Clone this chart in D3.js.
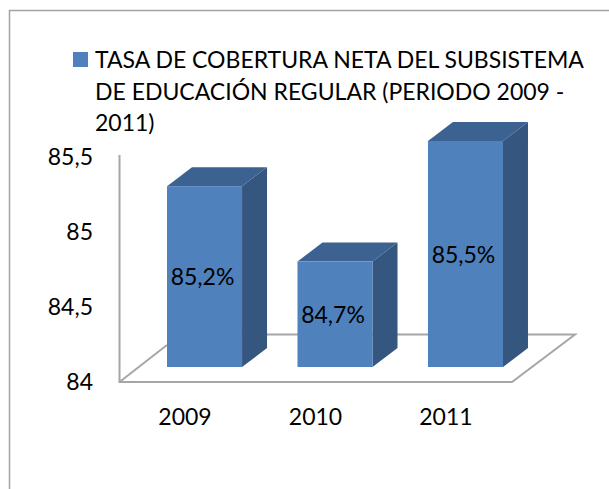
<!DOCTYPE html>
<html><head><meta charset="utf-8">
<style>html,body{margin:0;padding:0;background:#fff}svg{display:block}text{font-family:Lato,"Open Sans",sans-serif;fill:#000}</style>
<script src="https://cdn.jsdelivr.net/npm/d3@7"></script></head>
<body><svg id="c" width="609" height="489"></svg>
<script>
const categories=["2009","2010","2011"];
const values=[85.2,84.7,85.5];
const valueLabels=["85,2%","84,7%","85,5%"];
const tickValues=[84,84.5,85,85.5];
const tickLabels=["84","84,5","85","85,5"];
const legendLines=["TASA DE COBERTURA NETA DEL SUBSISTEMA","DE EDUCACIÓN REGULAR (PERIODO 2009 -","2011)"];

const svg=d3.select("#c");
const fs=23;
const sdx=25,sdy=-19;
const yFront=d3.scaleLinear().domain([84,85.5]).range([382,157]);
const yBar=d3.scaleLinear().domain([84,85.5]).range([367,141]);
const x=d3.scaleBand().domain(categories).range([119,551]).paddingInner(0.425).paddingOuter(0.368);

svg.append("path").attr("d","M9.5,489V10.5H609").attr("fill","none").attr("stroke","#a3a3a3").attr("stroke-width",1.5);

// wall and floor
const g="#a6a6a6";
svg.append("path").attr("d",`M119.5,155V382H512L575,334.5H167M119.5,382L167,345`).attr("fill","none").attr("stroke",g).attr("stroke-width",2);

// axis labels
const axis=d3.axisLeft(yFront).tickValues(tickValues).tickFormat((d,i)=>tickLabels[i]).tickSize(0).tickPadding(0);
const ag=svg.append("g").attr("transform","translate(93,0)").call(axis);
ag.select(".domain").remove();
ag.selectAll("text").attr("font-size",fs).style("font-family","Lato");
// category labels
svg.selectAll(".cat").data(categories).join("text").attr("class","cat")
 .attr("x",c=>x(c)+x.bandwidth()/2-19.5).attr("y",425).attr("text-anchor","middle").attr("font-size",fs).text(c=>c);

// bars
const bars=svg.selectAll(".bar").data(categories.map((c,i)=>({c,v:values[i],l:valueLabels[i]}))).join("g").attr("class","bar");
const bw=x.bandwidth();
bars.append("path").attr("fill","#35567f").attr("d",d=>{const l=x(d.c)+bw,t=yBar(d.v),b=yBar(84);return `M${l},${t}l${sdx},${sdy}V${b+sdy}l${-sdx},${-sdy}Z`});
bars.append("path").attr("fill","#3c6291").attr("d",d=>{const l=x(d.c),t=yBar(d.v);return `M${l},${t}l${sdx},${sdy}h${bw}l${-sdx},${-sdy}Z`});
bars.append("rect").attr("fill","#4f81bd").attr("x",d=>x(d.c)).attr("width",bw).attr("y",d=>yBar(d.v)).attr("height",d=>yBar(84)-yBar(d.v));
bars.append("text").attr("x",d=>x(d.c)+bw/2-2).attr("y",d=>(yBar(d.v)+yBar(84))/2+8.5).attr("text-anchor","middle").attr("font-size",fs).text(d=>d.l);

// legend
svg.append("rect").attr("x",73).attr("y",52).attr("width",15).attr("height",15).attr("fill","#4f81bd");
svg.selectAll(".leg").data(legendLines).join("text").attr("class","leg").attr("x",95).attr("y",(d,i)=>68+i*31.7).attr("font-size",fs).text(d=>d);
</script></body></html>
